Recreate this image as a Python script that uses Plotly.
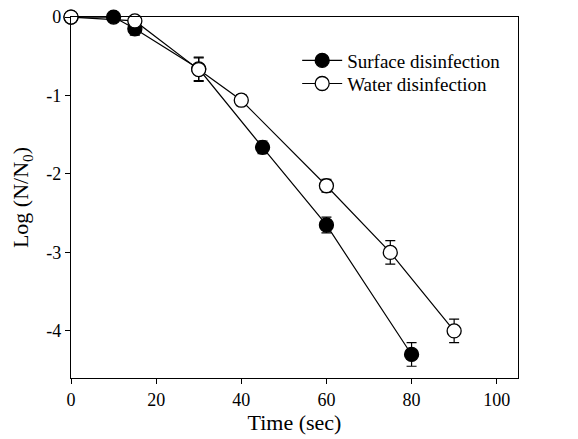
import plotly.graph_objects as go

surf_time = [0, 10, 15, 30, 45, 60, 80]
surf_log = [0, 0, -0.15, -0.66, -1.66, -2.65, -4.3]
surf_err = [0, 0, 0.08, 0.15, 0.08, 0.1, 0.15]

water_time = [0, 15, 30, 40, 60, 75, 90]
water_log = [0, -0.05, -0.67, -1.06, -2.15, -3.0, -4.0]
water_err = [0, 0, 0.15, 0.07, 0.08, 0.15, 0.15]

x_ticks = [0, 20, 40, 60, 80, 100]
y_ticks = [0, -1, -2, -3, -4]
y_tick_labels = ["0", "-1", "-2", "-3", "-4"]

font = "Liberation Serif, Times New Roman, serif"

fig = go.Figure()
fig.add_trace(go.Scatter(
    x=surf_time, y=surf_log, name="Surface disinfection", mode="lines+markers",
    line=dict(color="black", width=1.2),
    marker=dict(size=14, color="black", line=dict(color="black", width=1.3)),
    error_y=dict(type="data", array=surf_err, color="black", thickness=1.2, width=5),
    legend="legend", cliponaxis=False,
))
fig.add_trace(go.Scatter(
    x=water_time, y=water_log, name="Water disinfection", mode="lines+markers",
    line=dict(color="black", width=1.2),
    marker=dict(size=14, color="white", line=dict(color="black", width=1.3)),
    error_y=dict(type="data", array=water_err, color="black", thickness=1.2, width=5),
    legend="legend2", cliponaxis=False,
))

leg_common = dict(xanchor="left", yanchor="top", bgcolor="rgba(0,0,0,0)",
                  font=dict(size=19), itemwidth=40)

fig.update_layout(
    width=578, height=439,
    margin=dict(l=63, r=68, t=9, b=69, autoexpand=False),
    paper_bgcolor="white", plot_bgcolor="white",
    font=dict(family=font, size=18, color="black"),
    showlegend=True,
    legend=dict(x=0.506, y=0.932, **leg_common),
    legend2=dict(x=0.506, y=0.868, **leg_common),
    xaxis=dict(range=[0, 105], tickvals=x_ticks, ticks="outside", ticklen=5,
               tickcolor="black", showline=True, linecolor="black", linewidth=1.2,
               mirror=True, showgrid=False, zeroline=False, automargin=False,
               title=dict(text="Time (sec)", standoff=4),
               tickfont=dict(size=18)),
    yaxis=dict(range=[-4.6, 0.0005], tickvals=y_ticks, ticktext=y_tick_labels,
               ticks="outside", ticklen=5, ticklabeloverflow="allow",
               tickcolor="black", showline=True, linecolor="black", linewidth=1.2,
               mirror=True, showgrid=False, zeroline=False, automargin=False,
               title=dict(text="Log (N/N<sub>0</sub>)", standoff=12),
               tickfont=dict(size=18)),
)
fig.write_html("out.html")
